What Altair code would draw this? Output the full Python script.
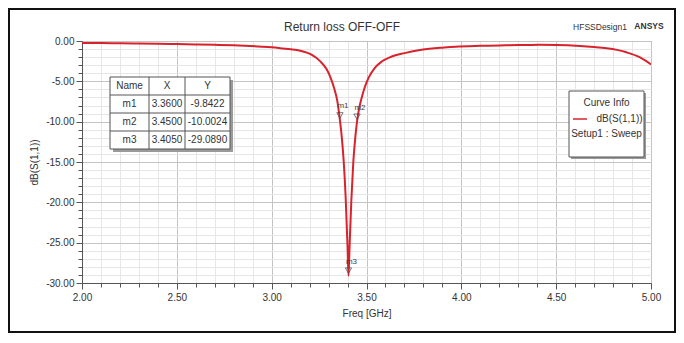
import altair as alt
import pandas as pd

# ---------------- data ----------------
freq_ghz = [2.00, 2.10, 2.20, 2.30, 2.40, 2.50, 2.60, 2.70, 2.80, 2.886, 2.95, 3.00,
            3.06, 3.10, 3.15, 3.21, 3.255, 3.29, 3.31, 3.33, 3.345, 3.36, 3.37, 3.38,
            3.39, 3.40, 3.405, 3.41, 3.42, 3.43, 3.44, 3.45, 3.46, 3.475, 3.49, 3.51,
            3.545, 3.58, 3.63, 3.70, 3.79, 3.91, 3.97, 4.10, 4.20, 4.30, 4.41, 4.50,
            4.625, 4.70, 4.766, 4.82, 4.87, 4.94, 5.00]
s11_db = [-0.25, -0.26, -0.28, -0.30, -0.33, -0.38, -0.43, -0.48, -0.54, -0.62, -0.70, -0.78,
          -0.92, -1.02, -1.20, -1.70, -2.50, -3.50, -4.50, -5.90, -7.30, -9.84, -12.0, -15.0,
          -19.3, -25.5, -29.09, -26.0, -19.8, -15.2, -12.2, -10.0, -8.5, -7.0, -5.8, -4.6,
          -3.3, -2.55, -1.95, -1.50, -1.08, -0.80, -0.70, -0.60, -0.55, -0.50, -0.48, -0.50,
          -0.62, -0.75, -0.90, -1.10, -1.40, -2.00, -2.90]

marker_names = ["m1", "m2", "m3"]
marker_x = [3.36, 3.45, 3.405]
marker_y = [-9.8422, -10.0024, -29.0890]
marker_x_text = ["3.3600", "3.4500", "3.4050"]
marker_y_text = ["-9.8422", "-10.0024", "-29.0890"]
table_header = ["Name", "X", "Y"]

x_ticks = [round(2.0 + 0.1 * i, 1) for i in range(31)]
y_ticks = [-i for i in range(31)]

title_text = "Return loss OFF-OFF"
design_text = "HFSSDesign1"
brand_text = "ANSYS"
x_title = "Freq [GHz]"
y_title = "dB(S(1,1))"
legend_title = "Curve Info"
legend_trace = "dB(S(1,1))"
legend_setup = "Setup1 : Sweep"

# ---------------- layout ----------------
FONT = "Liberation Sans"
W, H = 569, 242
OX, OY = 82, 41          # page position of plot origin
PAD = {"left": 74, "top": 33, "right": 25, "bottom": 50}
RED = "#d8232c"
TXT = "#333333"

curve_df = pd.DataFrame({"freq": freq_ghz, "db": s11_db})
marker_df = pd.DataFrame({"name": marker_names, "freq": marker_x, "db": marker_y})
one = pd.DataFrame({"k": [0]})

xscale = alt.Scale(domain=[2.0, 5.0], nice=False, zero=False)
yscale = alt.Scale(domain=[-30.0, 0.0], nice=False, zero=False)

def px(v):
    return v - OX

def py(v):
    return v - OY

def rect(x1, y1, x2, y2, fill="white", stroke=None, sw=1.0):
    kw = dict(fill=fill)
    if stroke:
        kw.update(stroke=stroke, strokeWidth=sw)
    return alt.Chart(one).mark_rect(**kw).encode(
        x=alt.value(px(x1)), x2=alt.value(px(x2)),
        y=alt.value(py(y1)), y2=alt.value(py(y2)))

def text(s, x, y, size=10, align="center", weight="normal", color=TXT, angle=0):
    kw = dict(text=s, font=FONT, fontSize=size, align=align, baseline="middle",
              fontWeight=weight, color=color)
    if angle:
        kw["angle"] = angle
    return alt.Chart(one).mark_text(**kw).encode(x=alt.value(px(x)), y=alt.value(py(y)))

x_major = "abs(datum.value*2 - round(datum.value*2)) < 0.001"
y_major = "abs(datum.value % 5) < 0.001"

x_axis = alt.Axis(
    values=x_ticks,
    labelExpr=f"{x_major} ? format(datum.value, '.2f') : ''",
    grid=True,
    gridColor={"condition": {"test": x_major, "value": "#c4c4c4"}, "value": "#e6e6e6"},
    tickSize={"condition": {"test": x_major, "value": 6}, "value": 4},
    tickColor="#555555", domainColor="#555555",
    labelFont=FONT, labelFontSize=10, labelColor=TXT, labelPadding=3,
    labelFlush=False, labelOverlap=False,
    title=x_title, titleFont=FONT, titleFontSize=10, titleFontWeight="normal",
    titleColor=TXT, titlePadding=6,
)
y_axis = alt.Axis(
    values=y_ticks,
    labelExpr=f"{y_major} ? ((datum.value < 0 ? '-' : '') + format(abs(datum.value), '.2f')) : ''",
    grid=True,
    gridColor={"condition": {"test": y_major, "value": "#c4c4c4"}, "value": "#e6e6e6"},
    tickSize={"condition": {"test": y_major, "value": 6}, "value": 4},
    tickColor="#555555", domainColor="#555555",
    labelFont=FONT, labelFontSize=10, labelColor=TXT, labelPadding=2,
    labelFlush=False, labelOverlap=False,
    title=y_title, titleFont=FONT, titleFontSize=10, titleFontWeight="normal",
    titleColor=TXT, titlePadding=6,
)

X = alt.X("freq:Q", scale=xscale, axis=x_axis)
Y = alt.Y("db:Q", scale=yscale, axis=y_axis)

curve = alt.Chart(curve_df).mark_line(color=RED, strokeWidth=2, interpolate="monotone", clip=True).encode(
    x=X, y=Y)

markers = alt.Chart(marker_df).mark_point(
    shape="triangle-down", filled=False, size=40, color="#444444", strokeWidth=1, yOffset=-5
).encode(x=X, y=Y)

marker_labels = alt.Chart(marker_df).mark_text(
    font=FONT, fontSize=8, color="#444444", dx=3, dy=-14
).encode(x=X, y=Y, text="name:N")

layers = [curve, markers, marker_labels]

# outer frame, titles
layers.append(rect(9, 9, 675, 332, fill="transparent", stroke="#111111", sw=2))
layers.append(text(title_text, 342, 27, size=12))
layers.append(text(design_text, 600, 27, size=8.5))
layers.append(text(brand_text, 649, 26, size=8.5, weight="bold"))

# marker table
col_edges = [110, 149, 185, 230]
row_edges = [77, 95, 113, 131, 149]
layers.append(rect(113, 80, 233, 152, fill="#9a9a9a"))
layers.append(rect(110, 77, 230, 149, fill="white", stroke="#555555", sw=1))
for ce in col_edges[1:-1]:
    layers.append(alt.Chart(one).mark_rule(color="#555555", strokeWidth=1).encode(
        x=alt.value(px(ce)), y=alt.value(py(row_edges[0])), y2=alt.value(py(row_edges[-1]))))
for re_ in row_edges[1:-1]:
    layers.append(alt.Chart(one).mark_rule(color="#555555", strokeWidth=1).encode(
        x=alt.value(px(col_edges[0])), x2=alt.value(px(col_edges[-1])), y=alt.value(py(re_))))
col_centers = [(col_edges[i] + col_edges[i + 1]) / 2 for i in range(3)]
row_centers = [(row_edges[i] + row_edges[i + 1]) / 2 for i in range(4)]
for c, h in enumerate(table_header):
    layers.append(text(h, col_centers[c], row_centers[0], size=10))
for r in range(3):
    vals = [marker_names[r], marker_x_text[r], marker_y_text[r]]
    for c, v in enumerate(vals):
        layers.append(text(v, col_centers[c], row_centers[r + 1], size=10))

# curve info legend
layers.append(rect(571, 93, 646, 159, fill="#9a9a9a"))
layers.append(rect(569, 91, 644, 157, fill="white", stroke="#555555", sw=1))
layers.append(text(legend_title, 606.5, 102.5, size=10))
layers.append(alt.Chart(one).mark_rule(color=RED, strokeWidth=1.5).encode(
    x=alt.value(px(573)), x2=alt.value(px(587)), y=alt.value(py(119))))
layers.append(text(legend_trace, 619.5, 119, size=10))
layers.append(text(legend_setup, 606.5, 133.5, size=10))

chart = alt.layer(*layers).properties(
    width=W, height=H,
    padding=PAD,
    autosize=alt.AutoSizeParams(type="none"),
    background="white",
).configure_view(stroke="#8a8a8a", strokeWidth=1)

chart.save("out.html", embed_options={"renderer": "svg", "actions": False})
